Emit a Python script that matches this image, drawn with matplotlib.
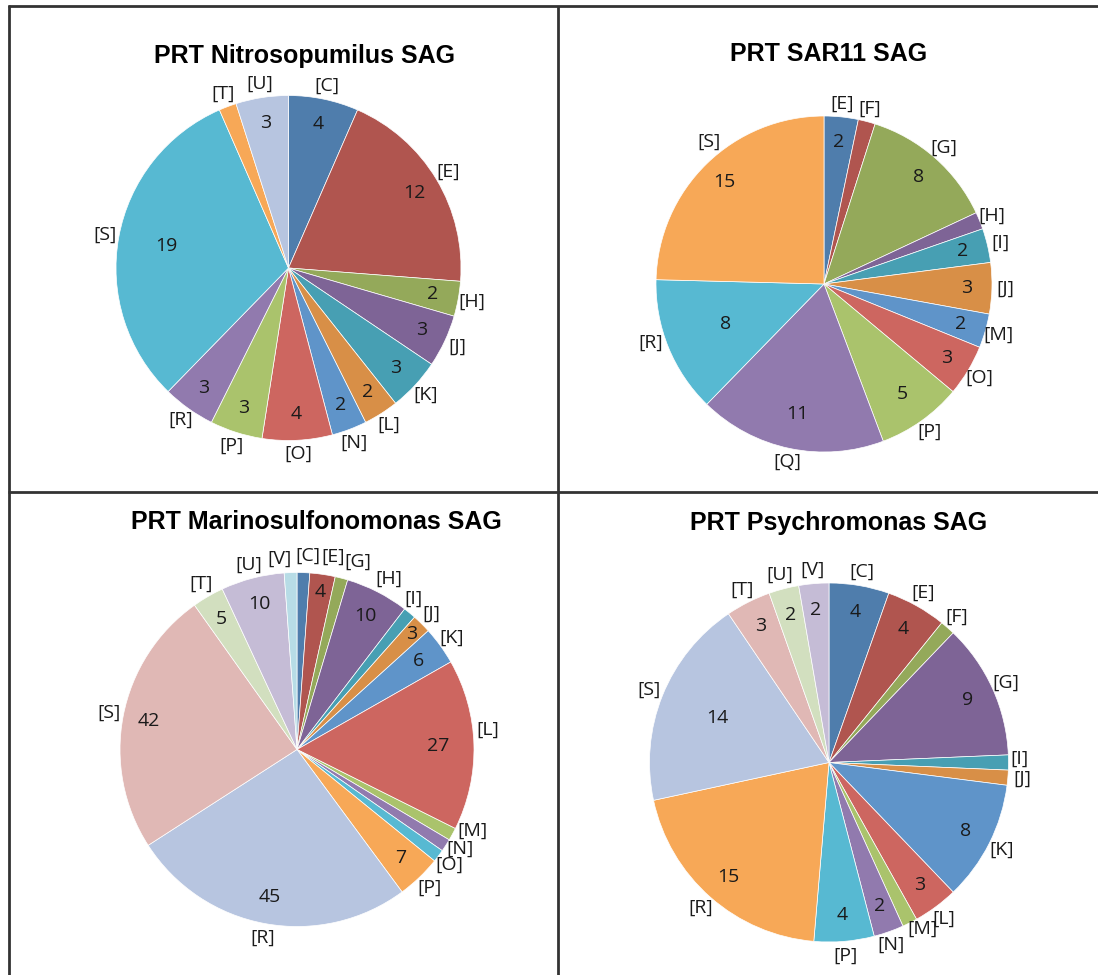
import matplotlib
matplotlib.use("Agg")
import matplotlib.pyplot as plt
from matplotlib.lines import Line2D
import numpy as np

# ---------------- data ----------------
nitro_title = "PRT Nitrosopumilus SAG"
nitro_cats = ['C', 'E', 'H', 'J', 'K', 'L', 'N', 'O', 'P', 'R', 'S', 'T', 'U']
nitro_vals = [4, 12, 2, 3, 3, 2, 2, 4, 3, 3, 19, 1, 3]
nitro_hidden = ['T']

sar11_title = "PRT SAR11 SAG"
sar11_cats = ['E', 'F', 'G', 'H', 'I', 'J', 'M', 'O', 'P', 'Q', 'R', 'S']
sar11_vals = [2, 1, 8, 1, 2, 3, 2, 3, 5, 11, 8, 15]
sar11_hidden = ['F', 'H']

marino_title = "PRT Marinosulfonomonas SAG"
marino_cats = ['C', 'E', 'G', 'H', 'I', 'J', 'K', 'L', 'M', 'N', 'O', 'P', 'R', 'S', 'T', 'U', 'V']
marino_vals = [2, 4, 2, 10, 2, 3, 6, 27, 2, 2, 2, 7, 45, 42, 5, 10, 2]
marino_hidden = ['C', 'G', 'I', 'M', 'N', 'O', 'V']

psychro_title = "PRT Psychromonas SAG"
psychro_cats = ['C', 'E', 'F', 'G', 'I', 'J', 'K', 'L', 'M', 'N', 'P', 'R', 'S', 'T', 'U', 'V']
psychro_vals = [4, 4, 1, 9, 1, 1, 8, 3, 1, 2, 4, 15, 14, 3, 2, 2]
psychro_hidden = ['F', 'I', 'J', 'M']

# ---------------- style ----------------
palette = ['#4F7DAC', '#B0554F', '#94A95A', '#7E6496', '#479FB3', '#D88F47',
           '#5F94C9', '#CD6660', '#AAC36C', '#917AAE', '#57B9D2', '#F7A857',
           '#B7C5E0', '#E0B8B5', '#D2DFBF', '#C5BCD6', '#B7DCE6', '#F9CFA9']
TXT = '#1A1A1A'
LABEL_FONT = ['Open Sans', 'DejaVu Sans']
TITLE_FONT = ['Liberation Sans', 'DejaVu Sans']
FS = 14

W, H = 1098, 975
fig = plt.figure(figsize=(W / 100, H / 100), dpi=100)
fig.patch.set_facecolor('white')

# panel geometry in pixels: centre x, centre y (from top), radius
panels = [
    dict(title=nitro_title, cats=nitro_cats, vals=nitro_vals, hidden=nitro_hidden,
         cx=288.5, cy=268, r=172.5, tx=304, ty=63,
         nudge={}, vdist={'S': 0.72}),
    dict(title=sar11_title, cats=sar11_cats, vals=sar11_vals, hidden=sar11_hidden,
         cx=824, cy=284, r=168, tx=829, ty=61,
         nudge={'S': (12, 12), 'R': (-5, 10)}, vdist={'R': 0.63, 'P': 0.80, 'Q': 0.79}),
    dict(title=marino_title, cats=marino_cats, vals=marino_vals, hidden=marino_hidden,
         cx=297, cy=749.5, r=177, tx=316, ty=529,
         nudge={'V': (-10, 0), 'C': (4, 3), 'E': (9, 4), 'G': (13, 3), 'H': (5, 0),
                'I': (-5, 3), 'L': (0, 15), 'M': (8, 10), 'N': (2, 4)},
         vdist={'L': 0.80, 'E': 0.90, 'J': 0.92}),
    dict(title=psychro_title, cats=psychro_cats, vals=psychro_vals, hidden=psychro_hidden,
         cx=829, cy=762.5, r=179.5, tx=839, ty=530,
         nudge={'I': (-3, 4), 'M': (6, 7), 'N': (-3, 1)}, vdist={'S': 0.67}),
]

for p in panels:
    cx, cy, r = p['cx'], p['cy'], p['r']
    ax = fig.add_axes([(cx - r) / W, (H - cy - r) / H, 2 * r / W, 2 * r / H])
    cols = [palette[i % len(palette)] for i in range(len(p['vals']))]
    wedges, _ = ax.pie(p['vals'], colors=cols, startangle=90, counterclock=False,
                       radius=1.0,
                       wedgeprops=dict(edgecolor='white', linewidth=0.5))
    ax.set_xlim(-1, 1)
    ax.set_ylim(-1, 1)
    ax.set_aspect('equal')
    ax.axis('off')
    for w, cat, val in zip(wedges, p['cats'], p['vals']):
        mid = np.deg2rad((w.theta1 + w.theta2) / 2)
        dx, dy = p['nudge'].get(cat, (0, 0))
        ax.annotate('[' + cat + ']', xy=(1.08 * np.cos(mid), 1.08 * np.sin(mid)),
                    xytext=(dx, dy), textcoords='offset pixels',
                    ha='center', va='center', fontsize=FS, color=TXT,
                    family=LABEL_FONT, annotation_clip=False)
        if cat not in p['hidden']:
            d = p['vdist'].get(cat, 0.85)
            ax.text(d * np.cos(mid), d * np.sin(mid), str(val), ha='center',
                    va='center', fontsize=FS, color=TXT, family=LABEL_FONT)
    fig.text(p['tx'] / W, 1 - p['ty'] / H, p['title'], ha='center', va='baseline',
             fontsize=18, fontweight='bold', color='black', family=TITLE_FONT)

# ---------------- panel borders ----------------
lc = '#333333'
lw = 2.0
def px_line(x0, y0, x1, y1):
    fig.add_artist(Line2D([x0 / W, x1 / W], [1 - y0 / H, 1 - y1 / H],
                          transform=fig.transFigure, color=lc, linewidth=lw,
                          solid_capstyle='butt'))

px_line(8, 6.2, W, 6.2)        # top
px_line(8.7, 5.2, 8.7, H)      # left
px_line(558, 6.2, 558, H)      # vertical divider
px_line(8, 492, W, 492)        # horizontal divider

fig.savefig('out.png', dpi=100, facecolor='white')
